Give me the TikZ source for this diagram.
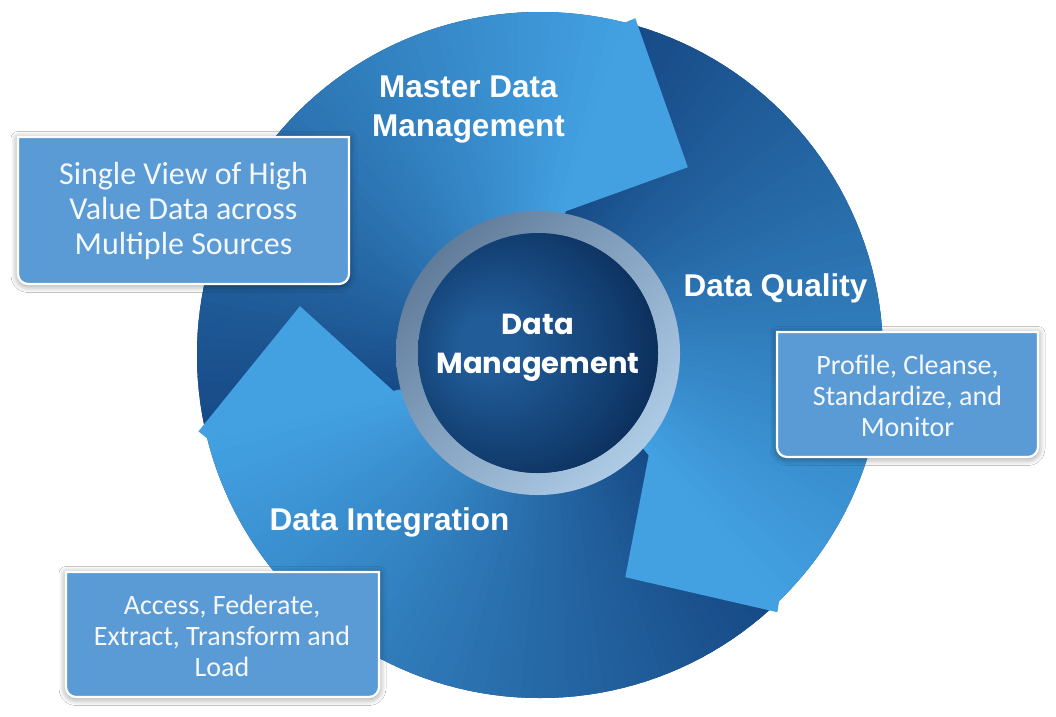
\documentclass[tikz,border=0pt]{standalone}
\usepackage{fontspec}
\setmainfont{Liberation Sans}
\newfontfamily\boxfont{Carlito}
\newfontfamily\hubfont{Poppins}
\usetikzlibrary{calc,shadows.blur,shadings}
\definecolor{bgdark}{HTML}{164985}
\definecolor{arlight}{HTML}{43A1E2}
\definecolor{boxfill}{HTML}{5B9BD5}
\definecolor{ringUL}{HTML}{4F6A88}
\definecolor{ringUR}{HTML}{8AA8C6}
\definecolor{ringLL}{HTML}{8AA8C6}
\definecolor{ringLR}{HTML}{BCDAF2}
\definecolor{discin}{HTML}{215C98}
\definecolor{discmid}{HTML}{113C6E}
\definecolor{discout}{HTML}{041A3C}
\definecolor{txtwhite}{HTML}{F4F8FC}
\pgfdeclareradialshading{discshade}{\pgfpoint{-12bp}{2bp}}{color(0bp)=(discin); color(6bp)=(discin); color(24bp)=(discmid); color(40bp)=(discout); color(50bp)=(discout)}
\tikzset{
  boxshape/.style={fill=boxfill, draw=white, line width=2.2pt,
    blur shadow={shadow xshift=0pt, shadow yshift=-1.5pt, shadow blur radius=7pt, shadow blur steps=10, shadow opacity=45}},
  boxtextA/.style={text=txtwhite, align=center, inner sep=0pt, font=\boxfont\fontsize{32}{35}\selectfont},
  boxtextB/.style={text=txtwhite, align=center, inner sep=0pt, font=\boxfont\fontsize{28}{31}\selectfont},
  title/.style={text=white, inner sep=0pt, font=\bfseries\fontsize{31.5}{39}\selectfont},
  hub/.style={text=white, align=center, inner sep=0pt, font=\hubfont\bfseries\fontsize{29}{39}\selectfont},
}
% body of a swirl arrow: tail outer angle, tail inner angle, head outer angle, head inner angle
\newcommand\swirlbody[4]{%
  \foreach \k in {0,...,59}{%
    \pgfmathsetmacro\tA{\k/60}%
    \pgfmathsetmacro\tB{min(\k+1.6,60)/60}%
    \pgfmathsetmacro\oA{#1+(#3-#1)*\tA}%
    \pgfmathsetmacro\oB{#1+(#3-#1)*\tB}%
    \pgfmathsetmacro\iA{#2+(#4-#2)*\tA}%
    \pgfmathsetmacro\iB{#2+(#4-#2)*\tB}%
    \pgfmathtruncatemacro\pcv{100*(\k+1)/60}%
    \fill[arlight!\pcv!bgdark] (\oA:343) arc[start angle=\oA, end angle=\oB, radius=343] -- (\iB:118) arc[start angle=\iB, end angle=\iA, radius=118] -- cycle;
  }}
% head: head outer angle, head inner angle, tip angle, tip radius, ring point radius
\newcommand\swirlhead[5]{%
  \fill[arlight] (#1+1.5:343) -- (#1:350) -- (#3:#4) -- ($(#3:#4)!1.25!(#2:#5)$) -- (#2+1.5:118) -- cycle;}
\newcommand\infobox[4]{%
  \path[boxshape] (#1,-#2) -- (#1,-#4+10) arc[start angle=180,end angle=270,radius=10] -- (#3-10,-#4) arc[start angle=270,end angle=360,radius=10] -- (#3,-#2) -- cycle;}
\begin{document}
\begin{tikzpicture}[x=1pt,y=1pt]
\useasboundingbox (0,0) rectangle (1056,-716);
\fill[white] (0,0) rectangle (1056,-716);
% big circle and swirl arrows
\begin{scope}[shift={(540,-355)}]
  \fill[bgdark] (0,0) circle[radius=343];
  \swirlbody{192.6}{194.3}{74.2}{82}
  \swirlbody{74.2}{82}{-47.3}{-40.8}
  \swirlbody{312.7}{319.2}{192.6}{194.3}
  \swirlhead{74.2}{82}{51.8}{239}{143}
  \swirlhead{-47.3}{-40.8}{-69}{238}{145}
  \swirlhead{192.6}{194.3}{168.5}{245}{150}
\end{scope}
% hub
\shade[even odd rule, upper left=ringUL, upper right=ringUR, lower left=ringLL, lower right=ringLR]
  (538,-353) circle[radius=142] (538,-353) circle[radius=120];
\shade[shading=discshade] (538,-353) circle[radius=120];
\node[hub] (hub) at (538,-348) {Data\\Management};
% titles
\node[title, align=center] (mdm) at (468.5,-109) {Master Data\\Management};
\node[title, anchor=base] (dq) at (775.5,-296) {Data Quality};
\node[title, anchor=base] (di) at (389.5,-530) {Data Integration};
% info boxes
\infobox{18}{137}{349}{284}
\node[boxtextA] (t1) at (183.5,-211) {Single View of High\\Value Data across\\Multiple Sources};
\infobox{777}{332}{1038}{457}
\node[boxtextB] (t2) at (907.5,-396) {Profile, Cleanse,\\Standardize, and\\Monitor};
\infobox{66}{572}{379}{697}
\node[boxtextB] (t3) at (222,-636) {Access, Federate,\\Extract, Transform and\\Load};
\end{tikzpicture}
\end{document}
